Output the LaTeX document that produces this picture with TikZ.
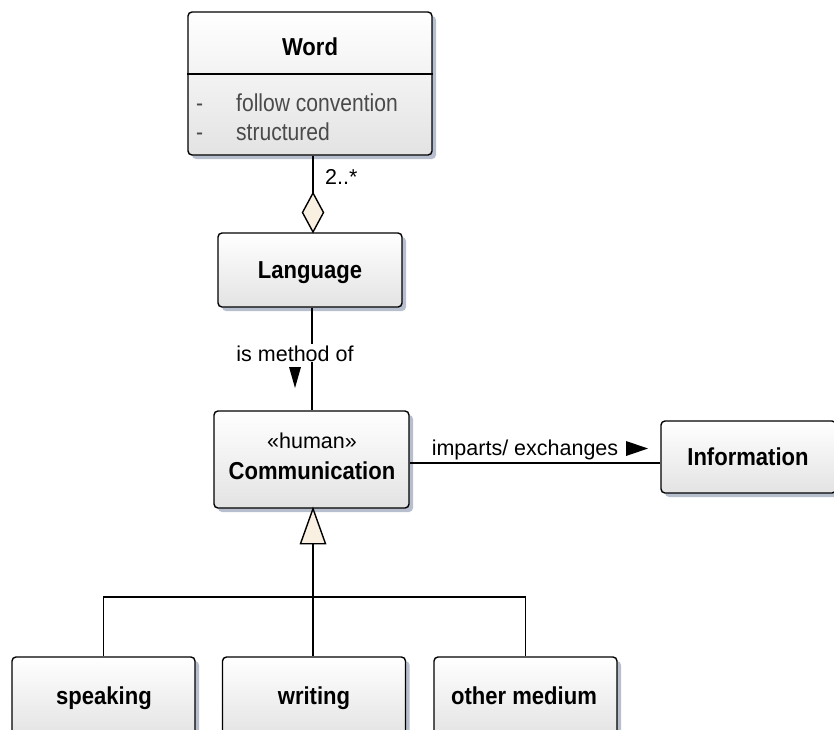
\documentclass[tikz,border=0pt]{standalone}
\usepackage{fontspec}
\setmainfont{Liberation Sans}
\newfontfamily\namefont{Liberation Sans}[FakeStretch=0.9]
\newfontfamily\attrfont{Liberation Sans}[FakeStretch=0.86]
\usetikzlibrary{shadows,calc}
\definecolor{shadowc}{HTML}{B7BFCF}
\definecolor{cream}{HTML}{FAF0E1}
\definecolor{attrc}{HTML}{4A4A4A}
\tikzset{
  classbox/.style={draw=black, line width=1.4pt, rounded corners=4pt,
    top color=white, bottom color=black!11, inner sep=0pt,
    drop shadow={shadow xshift=4pt, shadow yshift=-4pt, fill=shadowc, opacity=1}},
  classname/.style={font=\namefont\bfseries\fontsize{24.5}{28}\selectfont, inner sep=0pt, anchor=base},
  attrtext/.style={font=\attrfont\fontsize{24.5}{28}\selectfont, text=attrc, inner sep=0pt, anchor=base west},
  lbltext/.style={font=\fontsize{21.5}{25}\selectfont, inner sep=0pt, anchor=base},
  conn/.style={line width=1.4pt},
  marker/.style={fill=black},
  hollow/.style={draw=black, line width=1.4pt, fill=cream, line join=miter},
}
\begin{document}
\begin{tikzpicture}[x=1pt, y=-1pt]
\useasboundingbox (0,0) rectangle (834,729);

% class boxes
\node[classbox, minimum width=244pt, minimum height=143pt] (word) at (310,83.5) {};
\node[classbox, minimum width=184pt, minimum height=74pt] (lang) at (310,270) {};
\node[classbox, minimum width=195pt, minimum height=97pt] (comm) at (311.5,459.5) {};
\node[classbox, minimum width=175pt, minimum height=72pt] (info) at (748.5,457) {};
\node[classbox, minimum width=183pt, minimum height=80pt] (speak) at (103.5,697) {};
\node[classbox, minimum width=183pt, minimum height=80pt] (write) at (314,697) {};
\node[classbox, minimum width=183pt, minimum height=80pt] (other) at (525.5,697) {};

% Word compartments
\draw[conn] (word.west |- 0,74) -- (word.east |- 0,74);
\node[classname] (wordname) at (310,55) {Word};
\node[attrtext] (adash1) at (196,111) {-};
\node[attrtext] (attr1) at (236,111) {follow convention};
\node[attrtext] (adash2) at (196,140) {-};
\node[attrtext] (attr2) at (236,140) {structured};

% class names
\node[classname] (langname) at (310,278) {Language};
\node[lbltext] (stereo) at (312,448) {«human»};
\node[classname] (commname) at (312,479) {Communication};
\node[classname] (infoname) at (748,465) {Information};
\node[classname] (speakname) at (104,704) {speaking};
\node[classname] (writename) at (314,704) {writing};
\node[classname] (othername) at (524,704) {other medium};

% aggregation Word -- Language
\coordinate (dtop) at (313,193);
\draw[conn] (word.south -| dtop) -- (dtop);
\draw[hollow] (dtop) -- ++(10.5,19.5) -- ++(-10.5,19.5) -- ++(-10.5,-19.5) -- cycle;
\node[lbltext, anchor=base west] (mult) at (325,184) {2..*};

% association Language -- Communication
\coordinate (xl) at (312,0);
\draw[conn] (lang.south -| xl) -- (comm.north -| xl);
\node[lbltext, fill=white, inner sep=1pt] (method) at (295,361) {is method of};
\fill[marker] (289,367) -- (301,367) -- (295,388) -- cycle;

% association Communication -- Information
\coordinate (yl) at (0,463);
\draw[conn] (comm.east |- yl) -- (info.west |- yl);
\node[lbltext] (imparts) at (525,455) {imparts/ exchanges};
\fill[marker] (626,441) -- (648,448.5) -- (626,456) -- cycle;

% generalization
\coordinate (tbase) at (313,543);
\coordinate (bus) at (313,597);
\draw[hollow] (comm.south -| tbase) -- ++(12.5,35) -- ++(-25,0) -- cycle;
\draw[conn] (tbase) -- (bus);
\draw[conn] (speak.north) |- (bus) -| (other.north);
\draw[conn] (bus) -- (write.north -| bus);
\end{tikzpicture}
\end{document}
